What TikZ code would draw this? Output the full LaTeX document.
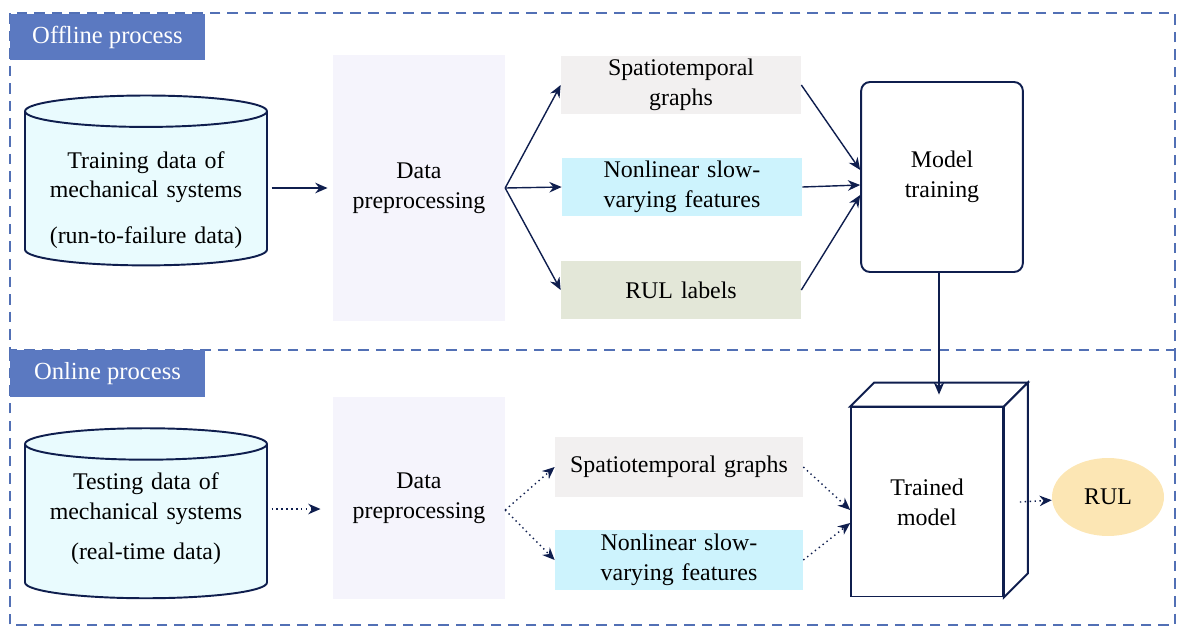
\documentclass[tikz,border=0pt]{standalone}
\usepackage{fontspec}
\setmainfont{Liberation Serif}
\usepackage{tikz}
\usetikzlibrary{shapes.geometric, arrows, arrows.meta, calc}
\definecolor{navy}{HTML}{0F1E4E}
\definecolor{frameblue}{HTML}{5270B5}
\definecolor{tagblue}{HTML}{5B79C1}
\definecolor{cylfill}{HTML}{E9FBFE}
\definecolor{prefill}{HTML}{F5F4FC}
\definecolor{stfill}{HTML}{F2F0F0}
\definecolor{nlfill}{HTML}{CDF3FD}
\definecolor{rulfill}{HTML}{E3E7D8}
\definecolor{outfill}{HTML}{FCE6B4}
\tikzstyle{frame} = [draw=frameblue, line width=0.8pt, dash pattern=on 6pt off 4pt]
\tikzstyle{tag} = [rectangle, fill=tagblue, text=white, minimum width=3.9cm, minimum height=0.94cm, inner sep=0pt, font=\fontsize{14}{17}\selectfont]
\tikzstyle{data} = [cylinder, shape border rotate=90, aspect=0.13, draw=navy, line width=1.1pt, fill=cylfill, minimum width=4.84cm, minimum height=3.34cm, text width=4.6cm, align=center]
\tikzstyle{pre} = [rectangle, fill=prefill, minimum width=3.36cm, text width=3.2cm, align=center]
\tikzstyle{feat} = [rectangle, minimum width=4.8cm, text width=4.7cm, minimum height=1.16cm, align=center, inner sep=0pt]
\tikzstyle{model} = [rectangle, rounded corners=5pt, draw=navy, line width=1.1pt, fill=white, minimum width=3.2cm, minimum height=3.8cm, text width=3cm, align=center]
\tikzstyle{cube} = [rectangle, draw=navy, line width=1.1pt, fill=white, minimum width=2.94cm, minimum height=3.78cm, text width=2.8cm, align=center]
\tikzstyle{result} = [ellipse, fill=outfill, minimum width=2.24cm, minimum height=1.56cm]
\tikzstyle{arrow} = [thick, ->, >={Stealth[length=7pt, width=6pt]}, draw=navy]
\tikzstyle{dotarrow} = [thick, dotted, ->, >={Stealth[length=7pt, width=6pt]}, draw=navy]

\begin{document}
\begin{tikzpicture}[x=0.02cm, y=-0.02cm, font=\fontsize{13.6}{17}\selectfont]
	\useasboundingbox (0,0) rectangle (1186,636);
	\draw [frame] (10,13) rectangle (1175,350);
	\draw [frame] (1175,350) -- (1175,625) -- (10,625) -- (10,350);
	\node (n13) [tag] at (107.5,37) {Offline process};
	\node (n14) [tag] at (107.5,373.5) {Online process};

	\node (n1) [data] at (146,191.2) {\rule{0pt}{19.5pt}Training data of\\ mechanical systems\\[9pt] (run-to-failure data)};
	\node (n2) [pre, minimum height=5.34cm] at (419,188) {Data\\ preprocessing};
	\node (n3) [feat, fill=stfill] at (681,85) {Spatiotemporal\\ graphs};
	\node (n4) [feat, fill=nlfill] at (682,187) {Nonlinear slow-\\ varying features};
	\node (n5) [feat, fill=rulfill] at (681,290) {RUL labels};
	\node (n6) [model] at (942,177) {Model\\ training};

	\node (n9) [data, minimum height=3.4cm] at (146,524) {Testing data of\\ mechanical systems\\[6pt] (real-time data)\rule[-9.2pt]{0pt}{0pt}};
	\node (n10) [pre, minimum height=4.06cm] at (419,498) {Data\\ preprocessing};
	\node (n11) [feat, fill=stfill, minimum width=4.96cm, text width=4.9cm, minimum height=1.2cm] at (679,467) {Spatiotemporal graphs};
	\node (n12) [feat, fill=nlfill, minimum width=4.96cm, minimum height=1.2cm] at (679,560) {Nonlinear slow-\\ varying features};
	\node (n7) [cube] at (927,502) {Trained\\ model};
	\draw [navy, line width=1.1pt, fill=white] (n7.north west) -- ($(n7.north west)+(24,-24)$) -- ($(n7.north east)+(24,-24)$) -- (n7.north east) -- cycle;
	\draw [navy, line width=1.1pt, fill=white] (n7.north east) -- ($(n7.north east)+(24,-24)$) -- ($(n7.south east)+(24,-24)$) -- (n7.south east) -- cycle;
	\coordinate (c0) at ($(n7.north)+(12,-12)$);
	\node (n8) [result] at (1108,497) {RUL};

	\draw [arrow, shorten <=2pt, shorten >=3pt] (n1.east |- n2) -- (n2);
	\draw [arrow] (n2.east) -- (n3.west);
	\draw [arrow] (n2.east) -- (n4.west);
	\draw [arrow] (n2.east) -- (n5.west);
	\draw [arrow] (n3.east) -- ([yshift=0.14cm]n6.west);
	\draw [arrow] (n4.east) -- ([yshift=-0.16cm]n6.west);
	\draw [arrow] (n5.east) -- ([yshift=-0.36cm]n6.west);
	\draw [arrow] (c0 |- n6.south) -- (c0);

	\draw [dotarrow, shorten <=2pt, shorten >=7pt] ([yshift=-0.22cm]n9.east |- n10) -- ([yshift=-0.22cm]n10.west);
	\draw [dotarrow] ([yshift=-0.24cm]n10.east) -- (n11.west);
	\draw [dotarrow] ([yshift=-0.24cm]n10.east) -- (n12.west);
	\draw [dotarrow] (n11.east) -- ([yshift=-0.16cm]n7.west);
	\draw [dotarrow] (n12.east) -- ([yshift=-0.42cm]n7.west);
	\draw [dotarrow] ([xshift=0.32cm]n7.east) -- (n8);
\end{tikzpicture}
\end{document}
